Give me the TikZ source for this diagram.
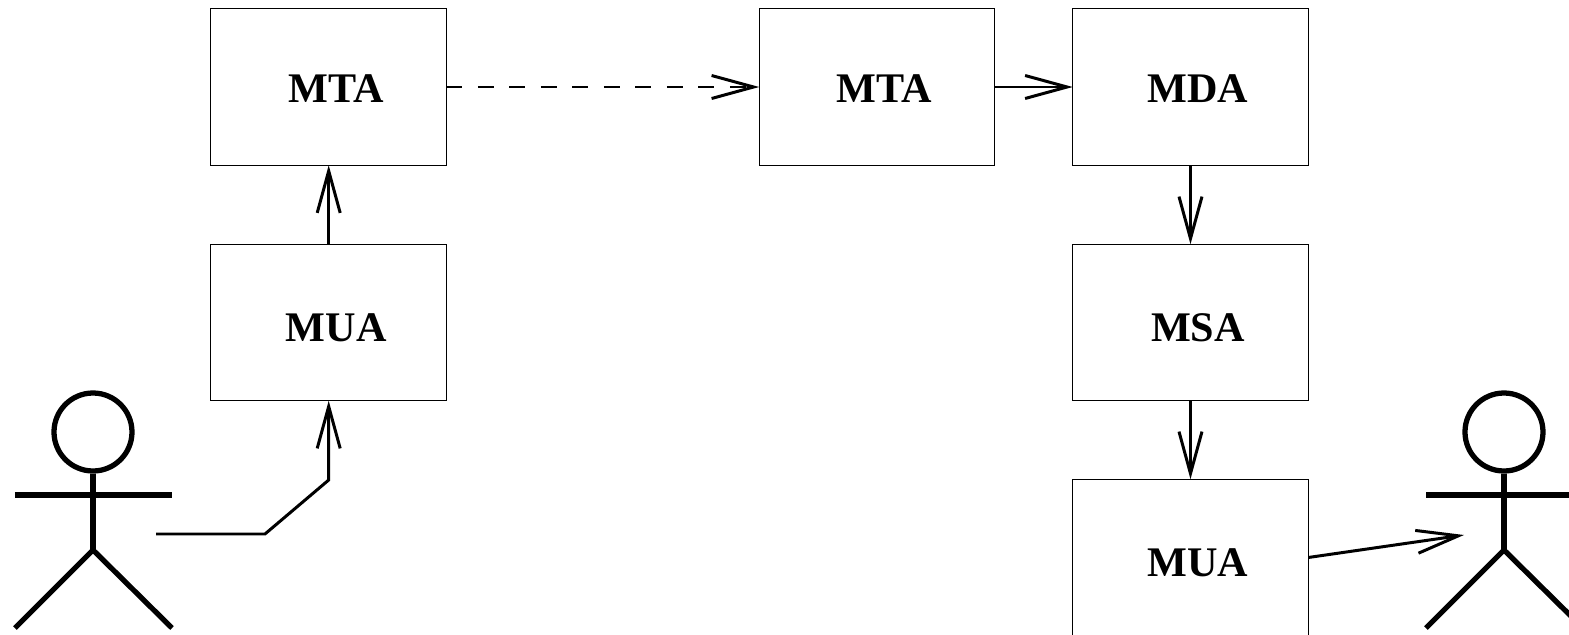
\documentclass[tikz,border=0pt]{standalone}
\usepackage{fontspec}
\setmainfont{Liberation Serif}
\usepackage{tikz}
\usetikzlibrary{arrows.meta}
\tikzstyle{agent}=[draw,line width=0.3pt,minimum width=2.355cm,minimum height=1.565cm,inner sep=0pt,outer sep=0pt,text height=0.3cm,text depth=0pt,font=\fontsize{12}{14}\selectfont\bfseries,execute at begin node=\hspace*{0.15cm}]
\tikzstyle{lowagent}=[agent,text height=0.38cm]
\tikzstyle{head}=[draw,circle,line width=1.5pt,minimum size=0.78cm,inner sep=0pt]
\tikzstyle{edge}=[draw,line width=0.85pt,-{Straight Barb[length=0.42cm,width=0.23cm,line width=0.85pt]}]
\tikzstyle{limb}=[draw,line width=1.5pt]

\begin{document}
\begin{tikzpicture}
        \clip (0,0) rectangle (15.69,6.34);
        \node[agent] (mta1) at (3.287,5.47) {MTA};
        \node[lowagent] (mua1) at (3.287,3.115) {MUA};
        \node[agent] (mta2) at (8.77,5.47) {MTA};
        \node[agent] (mda) at (11.905,5.47) {MDA};
        \node[lowagent] (msa) at (11.905,3.115) {MSA};
        \node[lowagent] (mua2) at (11.905,0.765) {MUA};
        % left person
        \node[head] (head1) at (0.93,2.02) {};
        \coordinate (hip1) at (0.93,0.84);
        \coordinate (larm1) at (0.15,1.39);
        \coordinate (rarm1) at (1.72,1.39);
        \coordinate (lfoot1) at (0.15,0.06);
        \coordinate (rfoot1) at (1.72,0.06);
        \draw[limb] (head1) to (hip1);
        \draw[limb] (larm1) to (rarm1);
        \draw[limb] (hip1) to (lfoot1);
        \draw[limb] (hip1) to (rfoot1);
        % right person
        \node[head] (head2) at (15.04,2.02) {};
        \coordinate (hip2) at (15.04,0.84);
        \coordinate (larm2) at (14.26,1.39);
        \coordinate (rarm2) at (15.83,1.39);
        \coordinate (lfoot2) at (14.26,0.06);
        \coordinate (rfoot2) at (15.83,0.06);
        \draw[limb] (head2) to (hip2);
        \draw[limb] (larm2) to (rarm2);
        \draw[limb] (hip2) to (lfoot2);
        \draw[limb] (hip2) to (rfoot2);
        % mail path
        \coordinate (from) at (1.56,1.0);
        \coordinate (bend1) at (2.65,1.0);
        \coordinate (bend2) at (3.287,1.54);
        \coordinate (to) at (14.64,0.99);
        \draw[edge] (from) -- (bend1) -- (bend2) -- (mua1.south);
        \draw[edge] (mua1) to (mta1);
        \draw[edge,dash pattern=on 0.16cm off 0.155cm] (mta1) to (mta2);
        \draw[edge] (mta2) to (mda);
        \draw[edge] (mda) to (msa);
        \draw[edge] (msa) to (mua2);
        \draw[edge] (mua2.east) to (to);
      \end{tikzpicture}
\end{document}
